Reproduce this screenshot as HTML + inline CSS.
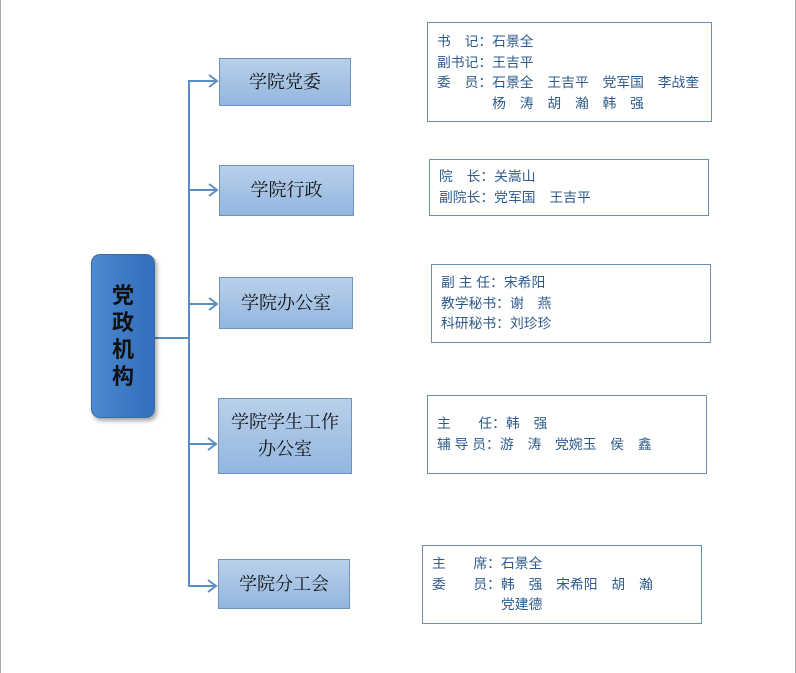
<!DOCTYPE html>
<html><head><meta charset="utf-8"><style>
body{margin:0;width:796px;height:673px;background:#fff;position:relative;overflow:hidden;font-family:"Liberation Sans","Noto Sans CJK SC",sans-serif}
.b{position:absolute;box-sizing:border-box;border:1px solid #6f93b8;background:linear-gradient(#b9d0ea,#93b6e0);display:flex;align-items:center;justify-content:center;text-align:center;font-size:18px;color:#111;line-height:27px;font-family:"Liberation Serif","Noto Serif CJK SC",serif}
.r{position:absolute;box-sizing:border-box;border:1px solid #6a8fb5;background:#fff;color:#2f5b8c;font-size:13.8px;line-height:20.5px;white-space:pre;padding-left:9px}
</style></head><body>
<div style="position:absolute;left:0;top:0;width:1px;height:673px;background:#aaa"></div>
<div style="position:absolute;left:795px;top:0;width:1px;height:673px;background:#aaa"></div>
<svg width="796" height="673" style="position:absolute;left:0;top:0">
<g stroke="#5b8fc4" stroke-width="2" fill="none">
<line x1="155" y1="338" x2="189" y2="338"/>
<line x1="189" y1="80" x2="189" y2="587"/>
<line x1="189" y1="81" x2="217" y2="81"/><polyline points="209,75 217,81 209,87"/>
<line x1="189" y1="190" x2="217" y2="190"/><polyline points="209,184 217,190 209,196"/>
<line x1="189" y1="304" x2="217" y2="304"/><polyline points="209,298 217,304 209,310"/>
<line x1="189" y1="444" x2="216" y2="444"/><polyline points="208,438 216,444 208,450"/>
<line x1="189" y1="586" x2="216" y2="586"/><polyline points="208,580 216,586 208,592"/>
</g></svg>
<div style="position:absolute;left:91px;top:254px;width:64px;height:164px;border-radius:9px;background:linear-gradient(90deg,#4f8bd0,#3a78c4 60%,#3470bb);border:1px solid #3a6aa5;box-shadow:2px 3px 4px rgba(0,0,0,.35);box-sizing:border-box;display:flex;align-items:center;justify-content:center;font-size:22px;font-weight:bold;line-height:27px;color:#111;text-align:center">党<br>政<br>机<br>构</div>
<div class="b" style="left:219px;top:58px;width:132px;height:48px">学院党委</div>
<div class="b" style="left:219px;top:165px;width:135px;height:51px">学院行政</div>
<div class="b" style="left:219px;top:277px;width:134px;height:52px">学院办公室</div>
<div class="b" style="left:218px;top:398px;width:134px;height:76px">学院学生工作<br>办公室</div>
<div class="b" style="left:218px;top:559px;width:132px;height:50px">学院分工会</div>
<div class="r" style="left:427px;top:22px;width:285px;height:100px;padding-top:9px">书　记：石景全
副书记：王吉平
委　员：石景全　王吉平　党军国　李战奎
　　　　杨　涛　胡　瀚　韩　强</div>
<div class="r" style="left:429px;top:159px;width:280px;height:57px;padding-top:7px">院　长：关嵩山
副院长：党军国　王吉平</div>
<div class="r" style="left:431px;top:264px;width:280px;height:79px;padding-top:8px">副 主 任：宋希阳
教学秘书：谢　燕
科研秘书：刘珍珍</div>
<div class="r" style="left:427px;top:395px;width:280px;height:79px;padding-top:18px">主　　任：韩　强
辅 导 员：游　涛　党婉玉　侯　鑫</div>
<div class="r" style="left:422px;top:545px;width:280px;height:79px;padding-top:8px">主　　席：石景全
委　　员：韩　强　宋希阳　胡　瀚
　　　　　党建德</div>
</body></html>
